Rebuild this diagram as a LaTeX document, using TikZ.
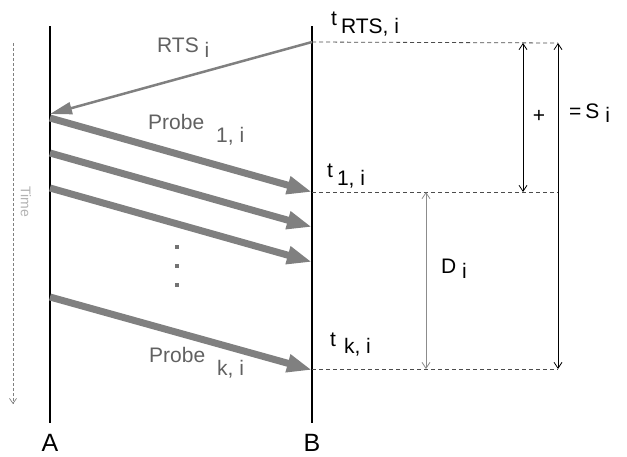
\documentclass[tikz,border=0pt]{standalone}
\usepackage{fontspec}
\setmainfont{Liberation Sans}
\usetikzlibrary{arrows.meta, positioning}
\newcommand{\drop}[2]{\raisebox{-#1}{#2}} % lowered index text
\tikzset{
x=1pt, y=-1pt, % pixel units, y runs downwards
lifeline/.style={line width=2.4pt}, % vertical lines of A and B
probe/.style={draw=black!50, line width=7pt, -{Triangle[length=25pt,width=17pt]}}, % thick probe packets
request/.style={draw=black!50, line width=2.5pt, -{Triangle[length=22pt,width=12pt]}}, % the RTS message
level/.style={draw=black!70, line width=0.8pt, dash pattern=on 4pt off 3pt}, % horizontal time marks
span/.style={line width=0.8pt, {Straight Barb[length=6pt,width=8pt]}-{Straight Barb[length=6pt,width=8pt]}}, % interval arrows
txt/.style={inner sep=0pt, anchor=base west, font=\fontsize{21}{25}\selectfont}, % labels
}
\begin{document}
\begin{tikzpicture}
\useasboundingbox (0,0) rectangle (627,456);

% the two stations
\coordinate (A top) at (50,26);
\coordinate (A bot) at (50,423);
\coordinate (B top) at (312,26);
\coordinate (B bot) at (312,423);
\draw[lifeline] (A top) -- (A bot);
\draw[lifeline] (B top) -- (B bot);
\node[inner sep=0pt, anchor=base, font=\fontsize{25}{30}\selectfont] (A) at (50,451) {A};
\node[inner sep=0pt, anchor=base, font=\fontsize{25}{30}\selectfont] (B) at (312,451) {B};

% time axis
\coordinate (time start) at (13,43);
\coordinate (time end) at (13,404);
\draw[black!50, line width=0.7pt, dash pattern=on 3pt off 2pt, -{Straight Barb[length=5pt,width=7pt]}] (time start) -- (time end);
\node[rotate=-90, inner sep=0pt, text=black!30, font=\fontsize{14}{16}\selectfont] (time) at (26,202) {Time};

% messages
\coordinate (rts B) at (312,42);
\coordinate (rts A) at (50,114);
\draw[request] (rts B) -- (rts A);
\node[txt, text=black!62] (rts) at (157,52) {RTS\ \drop{5pt}{i}};

\coordinate (p1 A) at (50,118);
\coordinate (p1 B) at (312,192);
\coordinate (p2 A) at (50,153);
\coordinate (p2 B) at (312,227);
\coordinate (p3 A) at (50,188);
\coordinate (p3 B) at (312,262);
\coordinate (pk A) at (50,297);
\coordinate (pk B) at (312,370);
\foreach \p in {p1, p2, p3, pk}
  \draw[probe] (\p\space A) -- (\p\space B);
\node[txt, text=black!62] (probe 1) at (148,129) {Probe\hspace{12pt}\drop{13pt}{1, i}};
\node[txt, text=black!62] (probe k) at (149,362) {Probe\hspace{12pt}\drop{13pt}{k, i}};
\foreach \y in {247,266,285}
  \fill[black!55] (175,\y-2) rectangle (179,\y+2);

% time stamps at B
\node[txt] (t rts) at (331,25) {t\hspace{4pt}\drop{8pt}{RTS, i}};
\node[txt] (t 1) at (327,177) {t\hspace{4pt}\drop{8pt}{1, i}};
\node[txt] (t k) at (330,346) {t\hspace{8pt}\drop{7pt}{k, i}};

% intervals
\coordinate (top end) at (558,43);
\coordinate (mid end) at (558,192);
\coordinate (bot end) at (558,369);
\draw[level] (rts B) -- (top end);
\draw[level] (p1 B) -- (mid end);
\draw[level] (pk B |- bot end) -- (bot end);
\draw[span] (523,43) -- (523,192);
\draw[span] (top end) -- (bot end);
\draw[span, black!45] (426,192) -- (426,369);
\node[inner sep=0pt, font=\fontsize{21}{25}\selectfont] (plus) at (539,116) {+};
\node[txt] (s) at (569,118) {=\hspace{4pt}S\ \drop{4pt}{i}};
\node[txt] (d) at (441,273) {D\ \drop{5pt}{i}};
\end{tikzpicture}
\end{document}
